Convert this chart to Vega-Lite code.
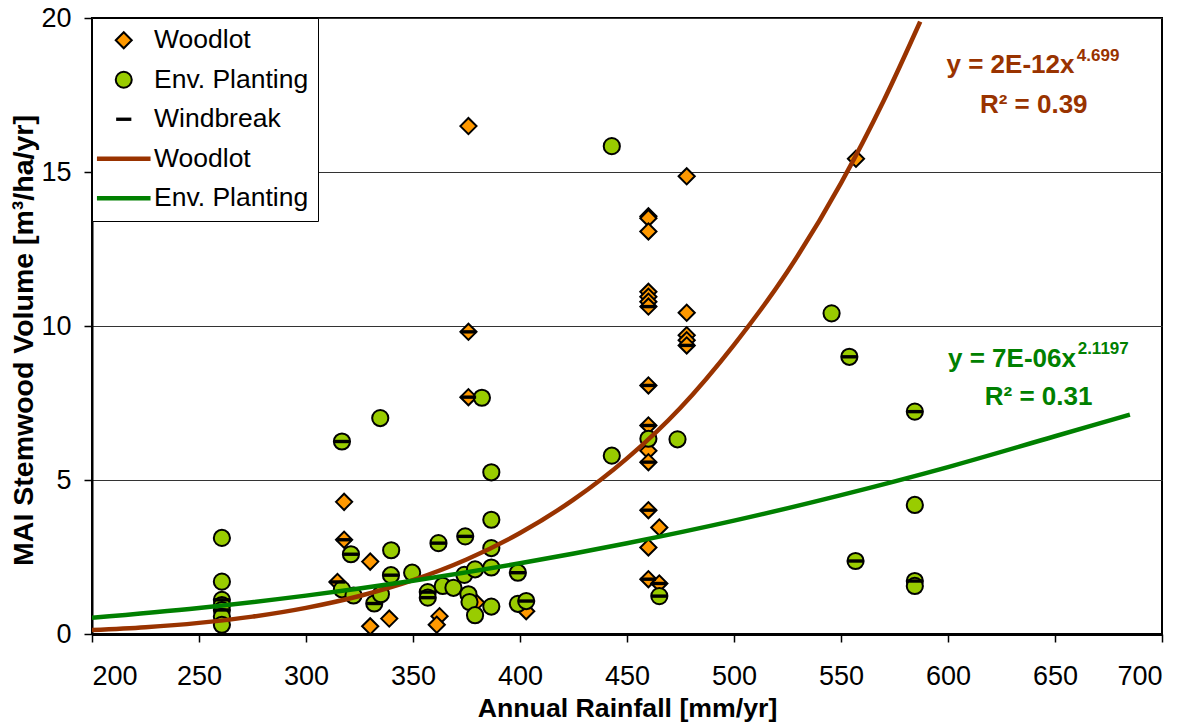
{
  "$schema": "https://vega.github.io/schema/vega-lite/v6.json",
  "autosize": {"type": "none"},
  "width": 1070,
  "height": 616,
  "padding": {"left": 92, "top": 18, "right": 31, "bottom": 93},
  "background": "white",
  "config": {
    "font": "Liberation Sans",
    "view": {"stroke": "black", "strokeWidth": 2},
    "legend": {
      "labelFontSize": 26.5, "labelColor": "black", "labelFont": "Liberation Sans",
      "symbolSize": 256,
      "padding": 9, "symbolOffset": 9.5, "labelOffset": 17, "rowPadding": 12.5,
      "strokeColor": "#000000", "fillColor": "white"
    }
  },
  "data": {
    "values": [
      {"series": "1 Woodlot", "x": 375.9, "y": 16.49},
      {"series": "1 Woodlot", "x": 375.9, "y": 9.81},
      {"series": "1 Woodlot", "x": 375.9, "y": 7.69},
      {"series": "1 Woodlot", "x": 317.8, "y": 4.29},
      {"series": "1 Woodlot", "x": 317.8, "y": 3.06},
      {"series": "1 Woodlot", "x": 330.0, "y": 2.35},
      {"series": "1 Woodlot", "x": 314.7, "y": 1.69},
      {"series": "1 Woodlot", "x": 330.0, "y": 0.25},
      {"series": "1 Woodlot", "x": 338.9, "y": 0.5},
      {"series": "1 Woodlot", "x": 362.4, "y": 0.58},
      {"series": "1 Woodlot", "x": 361.1, "y": 0.3},
      {"series": "1 Woodlot", "x": 402.9, "y": 0.74},
      {"series": "1 Woodlot", "x": 379.5, "y": 1.02},
      {"series": "1 Woodlot", "x": 460.0, "y": 13.56},
      {"series": "1 Woodlot", "x": 460.0, "y": 13.5},
      {"series": "1 Woodlot", "x": 460.0, "y": 13.07},
      {"series": "1 Woodlot", "x": 460.0, "y": 11.11},
      {"series": "1 Woodlot", "x": 460.0, "y": 10.95},
      {"series": "1 Woodlot", "x": 460.0, "y": 10.79},
      {"series": "1 Woodlot", "x": 460.0, "y": 10.63},
      {"series": "1 Woodlot", "x": 460.0, "y": 8.07},
      {"series": "1 Woodlot", "x": 460.0, "y": 6.77},
      {"series": "1 Woodlot", "x": 460.0, "y": 5.95},
      {"series": "1 Woodlot", "x": 460.0, "y": 5.58},
      {"series": "1 Woodlot", "x": 460.0, "y": 4.02},
      {"series": "1 Woodlot", "x": 460.0, "y": 2.81},
      {"series": "1 Woodlot", "x": 460.0, "y": 1.78},
      {"series": "1 Woodlot", "x": 465.1, "y": 3.46},
      {"series": "1 Woodlot", "x": 465.1, "y": 1.64},
      {"series": "1 Woodlot", "x": 477.9, "y": 14.86},
      {"series": "1 Woodlot", "x": 477.9, "y": 10.43},
      {"series": "1 Woodlot", "x": 477.9, "y": 9.7},
      {"series": "1 Woodlot", "x": 477.9, "y": 9.54},
      {"series": "1 Woodlot", "x": 477.9, "y": 9.37},
      {"series": "1 Woodlot", "x": 557.0, "y": 15.43},

      {"series": "2 Env. Planting", "x": 260.7, "y": 3.12},
      {"series": "2 Env. Planting", "x": 260.7, "y": 1.7},
      {"series": "2 Env. Planting", "x": 260.7, "y": 1.11},
      {"series": "2 Env. Planting", "x": 260.7, "y": 0.94},
      {"series": "2 Env. Planting", "x": 260.7, "y": 0.78},
      {"series": "2 Env. Planting", "x": 260.7, "y": 0.56},
      {"series": "2 Env. Planting", "x": 260.7, "y": 0.3},
      {"series": "2 Env. Planting", "x": 316.8, "y": 6.25},
      {"series": "2 Env. Planting", "x": 334.7, "y": 7.01},
      {"series": "2 Env. Planting", "x": 321.0, "y": 2.59},
      {"series": "2 Env. Planting", "x": 339.8, "y": 2.72},
      {"series": "2 Env. Planting", "x": 316.8, "y": 1.45},
      {"series": "2 Env. Planting", "x": 322.2, "y": 1.25},
      {"series": "2 Env. Planting", "x": 331.9, "y": 0.99},
      {"series": "2 Env. Planting", "x": 335.0, "y": 1.29},
      {"series": "2 Env. Planting", "x": 339.7, "y": 1.91},
      {"series": "2 Env. Planting", "x": 349.6, "y": 1.99},
      {"series": "2 Env. Planting", "x": 356.9, "y": 1.36},
      {"series": "2 Env. Planting", "x": 356.9, "y": 1.18},
      {"series": "2 Env. Planting", "x": 363.9, "y": 1.56},
      {"series": "2 Env. Planting", "x": 368.9, "y": 1.5},
      {"series": "2 Env. Planting", "x": 361.9, "y": 2.95},
      {"series": "2 Env. Planting", "x": 374.4, "y": 3.17},
      {"series": "2 Env. Planting", "x": 374.0, "y": 1.92},
      {"series": "2 Env. Planting", "x": 379.0, "y": 2.1},
      {"series": "2 Env. Planting", "x": 386.6, "y": 2.16},
      {"series": "2 Env. Planting", "x": 386.6, "y": 2.79},
      {"series": "2 Env. Planting", "x": 399.0, "y": 1.99},
      {"series": "2 Env. Planting", "x": 375.9, "y": 1.29},
      {"series": "2 Env. Planting", "x": 376.4, "y": 1.04},
      {"series": "2 Env. Planting", "x": 379.0, "y": 0.61},
      {"series": "2 Env. Planting", "x": 386.6, "y": 0.89},
      {"series": "2 Env. Planting", "x": 399.0, "y": 0.98},
      {"series": "2 Env. Planting", "x": 402.9, "y": 1.07},
      {"series": "2 Env. Planting", "x": 386.6, "y": 3.71},
      {"series": "2 Env. Planting", "x": 386.6, "y": 5.25},
      {"series": "2 Env. Planting", "x": 382.2, "y": 7.67},
      {"series": "2 Env. Planting", "x": 442.9, "y": 5.79},
      {"series": "2 Env. Planting", "x": 473.6, "y": 6.32},
      {"series": "2 Env. Planting", "x": 460.0, "y": 6.34},
      {"series": "2 Env. Planting", "x": 465.1, "y": 1.23},
      {"series": "2 Env. Planting", "x": 442.9, "y": 15.84},
      {"series": "2 Env. Planting", "x": 545.6, "y": 10.41},
      {"series": "2 Env. Planting", "x": 553.9, "y": 9.0},
      {"series": "2 Env. Planting", "x": 584.5, "y": 7.22},
      {"series": "2 Env. Planting", "x": 584.5, "y": 4.19},
      {"series": "2 Env. Planting", "x": 556.8, "y": 2.37},
      {"series": "2 Env. Planting", "x": 584.5, "y": 1.72},
      {"series": "2 Env. Planting", "x": 584.5, "y": 1.56},

      {"series": "3 Windbreak", "x": 260.7, "y": 1.11},
      {"series": "3 Windbreak", "x": 260.7, "y": 0.78},
      {"series": "3 Windbreak", "x": 316.8, "y": 6.25},
      {"series": "3 Windbreak", "x": 321.0, "y": 2.59},
      {"series": "3 Windbreak", "x": 331.9, "y": 0.99},
      {"series": "3 Windbreak", "x": 339.7, "y": 1.91},
      {"series": "3 Windbreak", "x": 356.9, "y": 1.36},
      {"series": "3 Windbreak", "x": 356.9, "y": 1.18},
      {"series": "3 Windbreak", "x": 361.9, "y": 2.95},
      {"series": "3 Windbreak", "x": 374.4, "y": 3.17},
      {"series": "3 Windbreak", "x": 399.0, "y": 1.99},
      {"series": "3 Windbreak", "x": 402.9, "y": 1.07},
      {"series": "3 Windbreak", "x": 465.1, "y": 1.23},
      {"series": "3 Windbreak", "x": 553.9, "y": 9.0},
      {"series": "3 Windbreak", "x": 584.5, "y": 7.22},
      {"series": "3 Windbreak", "x": 556.8, "y": 2.37},
      {"series": "3 Windbreak", "x": 584.5, "y": 1.72},
      {"series": "3 Windbreak", "x": 317.8, "y": 3.06},
      {"series": "3 Windbreak", "x": 314.7, "y": 1.69},
      {"series": "3 Windbreak", "x": 375.9, "y": 9.81},
      {"series": "3 Windbreak", "x": 375.9, "y": 7.69},
      {"series": "3 Windbreak", "x": 460.0, "y": 10.63},
      {"series": "3 Windbreak", "x": 460.0, "y": 8.07},
      {"series": "3 Windbreak", "x": 460.0, "y": 6.77},
      {"series": "3 Windbreak", "x": 460.0, "y": 5.58},
      {"series": "3 Windbreak", "x": 460.0, "y": 4.02},
      {"series": "3 Windbreak", "x": 460.0, "y": 1.78},
      {"series": "3 Windbreak", "x": 465.1, "y": 1.64},
      {"series": "3 Windbreak", "x": 477.9, "y": 9.37},

      {"series": "4 Woodlot", "kind": "curve", "x": 200, "y": 0.126},
      {"series": "4 Woodlot", "kind": "curve", "x": 225, "y": 0.22},
      {"series": "4 Woodlot", "kind": "curve", "x": 250, "y": 0.361},
      {"series": "4 Woodlot", "kind": "curve", "x": 275, "y": 0.564},
      {"series": "4 Woodlot", "kind": "curve", "x": 300, "y": 0.849},
      {"series": "4 Woodlot", "kind": "curve", "x": 325, "y": 1.235},
      {"series": "4 Woodlot", "kind": "curve", "x": 350, "y": 1.751},
      {"series": "4 Woodlot", "kind": "curve", "x": 375, "y": 2.42},
      {"series": "4 Woodlot", "kind": "curve", "x": 400, "y": 3.28},
      {"series": "4 Woodlot", "kind": "curve", "x": 425, "y": 4.361},
      {"series": "4 Woodlot", "kind": "curve", "x": 450, "y": 5.702},
      {"series": "4 Woodlot", "kind": "curve", "x": 475, "y": 7.348},
      {"series": "4 Woodlot", "kind": "curve", "x": 500, "y": 9.39},
      {"series": "4 Woodlot", "kind": "curve", "x": 525, "y": 11.77},
      {"series": "4 Woodlot", "kind": "curve", "x": 550, "y": 14.64},
      {"series": "4 Woodlot", "kind": "curve", "x": 570, "y": 17.32},
      {"series": "4 Woodlot", "kind": "curve", "x": 587, "y": 19.88},

      {"series": "5 Env. Planting", "kind": "curve", "x": 200, "y": 0.528},
      {"series": "5 Env. Planting", "kind": "curve", "x": 250, "y": 0.847},
      {"series": "5 Env. Planting", "kind": "curve", "x": 300, "y": 1.246},
      {"series": "5 Env. Planting", "kind": "curve", "x": 350, "y": 1.728},
      {"series": "5 Env. Planting", "kind": "curve", "x": 400, "y": 2.295},
      {"series": "5 Env. Planting", "kind": "curve", "x": 450, "y": 2.947},
      {"series": "5 Env. Planting", "kind": "curve", "x": 500, "y": 3.68},
      {"series": "5 Env. Planting", "kind": "curve", "x": 550, "y": 4.51},
      {"series": "5 Env. Planting", "kind": "curve", "x": 600, "y": 5.42},
      {"series": "5 Env. Planting", "kind": "curve", "x": 650, "y": 6.42},
      {"series": "5 Env. Planting", "kind": "curve", "x": 685, "y": 7.12},

      {"series": "4 Woodlot", "kind": "main", "x": 599.3, "y": 18.22, "label": "y = 2E-12x"},
      {"series": "4 Woodlot", "kind": "sup", "x": 660.2, "y": 18.6, "label": "4.699"},
      {"series": "4 Woodlot", "kind": "main", "x": 614.9, "y": 16.92, "label": "R² = 0.39"},
      {"series": "5 Env. Planting", "kind": "main", "x": 600.0, "y": 8.67, "label": "y = 7E-06x"},
      {"series": "5 Env. Planting", "kind": "sup", "x": 660.6, "y": 9.1, "label": "2.1197"},
      {"series": "5 Env. Planting", "kind": "main", "x": 617.2, "y": 7.42, "label": "R² = 0.31"}
    ]
  },
  "encoding": {
    "x": {
      "field": "x", "type": "quantitative",
      "scale": {"domain": [200, 700], "nice": false, "zero": false},
      "axis": {
        "title": "Annual Rainfall [mm/yr]",
        "values": [200, 250, 300, 350, 400, 450, 500, 550, 600, 650, 700],
        "grid": false,
        "tickSize": 8, "tickColor": "black", "tickWidth": 1.5,
        "domainColor": "black", "domainWidth": 3,
        "labelFontSize": 27, "labelColor": "black", "labelPadding": 21,
        "titleFontSize": 26.7, "titleFontWeight": "bold", "titleColor": "black", "titlePadding": 6
      }
    },
    "y": {
      "field": "y", "type": "quantitative",
      "scale": {"domain": [0, 20], "nice": false},
      "axis": {
        "title": "MAI Stemwood Volume [m³/ha/yr]",
        "values": [0, 5, 10, 15, 20],
        "grid": true, "gridColor": "#333333", "gridWidth": 1.2,
        "tickSize": 8, "tickColor": "black", "tickWidth": 1.5,
        "domainColor": "black", "domainWidth": 2,
        "labelFontSize": 27, "labelColor": "black", "labelPadding": 13,
        "titleFontSize": 28.5, "titleFontWeight": "bold", "titleColor": "black", "titlePadding": 2, "titleY": 322
      }
    }
  },
  "layer": [
    {
      "transform": [{"filter": "datum.series < '4'"}],
      "mark": {"type": "point", "filled": true, "opacity": 1, "size": 262},
      "encoding": {
        "fill": {"field": "series", "type": "nominal",
          "scale": {"domain": ["1 Woodlot", "2 Env. Planting", "3 Windbreak", "4 Woodlot", "5 Env. Planting"], "range": ["#FF9900", "#99CC00", "#000000", "transparent", "transparent"]},
          "legend": {"title": null, "orient": "none", "legendX": 0, "legendY": 0, "direction": "vertical", "labelExpr": "slice(datum.label, 2)"}},
        "stroke": {"field": "series", "type": "nominal",
          "scale": {"domain": ["1 Woodlot", "2 Env. Planting", "3 Windbreak", "4 Woodlot", "5 Env. Planting"], "range": ["#000000", "#000000", "transparent", "#993300", "#008000"]},
          "legend": {"title": null, "orient": "none", "legendX": 0, "legendY": 0, "direction": "vertical", "labelExpr": "slice(datum.label, 2)"}},
        "shape": {"field": "series", "type": "nominal",
          "scale": {"domain": ["1 Woodlot", "2 Env. Planting", "3 Windbreak", "4 Woodlot", "5 Env. Planting"], "range": ["diamond", "circle", "M-0.95,-0.21H0.95V0.21H-0.95Z", "M-3.35,0H3.35", "M-3.35,0H3.35"]},
          "legend": {"title": null, "orient": "none", "legendX": 0, "legendY": 0, "direction": "vertical", "labelExpr": "slice(datum.label, 2)"}},
        "strokeWidth": {"field": "series", "type": "nominal",
          "scale": {"type": "ordinal", "domain": ["1 Woodlot", "2 Env. Planting", "3 Windbreak", "4 Woodlot", "5 Env. Planting"], "range": [2, 2, 0, 4.5, 4.5]},
          "legend": {"title": null, "orient": "none", "legendX": 0, "legendY": 0, "direction": "vertical", "labelExpr": "slice(datum.label, 2)"}}
      }
    },
    {
      "transform": [{"filter": "datum.kind === 'curve'"}],
      "mark": {"type": "line", "interpolate": "monotone", "clip": true},
      "encoding": {
        "order": {"field": "x", "type": "quantitative"},
        "stroke": {"field": "series", "type": "nominal",
          "scale": {"domain": ["1 Woodlot", "2 Env. Planting", "3 Windbreak", "4 Woodlot", "5 Env. Planting"], "range": ["#000000", "#000000", "transparent", "#993300", "#008000"]},
          "legend": {"title": null, "orient": "none", "legendX": 0, "legendY": 0, "direction": "vertical", "labelExpr": "slice(datum.label, 2)"}},
        "strokeWidth": {"field": "series", "type": "nominal",
          "scale": {"type": "ordinal", "domain": ["1 Woodlot", "2 Env. Planting", "3 Windbreak", "4 Woodlot", "5 Env. Planting"], "range": [2, 2, 0, 4.5, 4.5]},
          "legend": {"title": null, "orient": "none", "legendX": 0, "legendY": 0, "direction": "vertical", "labelExpr": "slice(datum.label, 2)"}}
      }
    },
    {
      "transform": [{"filter": "datum.kind === 'main'"}],
      "mark": {"type": "text", "align": "left", "baseline": "alphabetic", "fontSize": 26, "fontWeight": "bold", "font": "Liberation Sans"},
      "encoding": {
        "text": {"field": "label"},
        "color": {"field": "series", "type": "nominal", "scale": {"domain": ["4 Woodlot", "5 Env. Planting"], "range": ["#993300", "#008000"]}, "legend": null}
      }
    },
    {
      "transform": [{"filter": "datum.kind === 'sup'"}],
      "mark": {"type": "text", "align": "left", "baseline": "alphabetic", "fontSize": 17, "fontWeight": "bold", "font": "Liberation Sans"},
      "encoding": {
        "text": {"field": "label"},
        "color": {"field": "series", "type": "nominal", "scale": {"domain": ["4 Woodlot", "5 Env. Planting"], "range": ["#993300", "#008000"]}, "legend": null}
      }
    }
  ]
}
